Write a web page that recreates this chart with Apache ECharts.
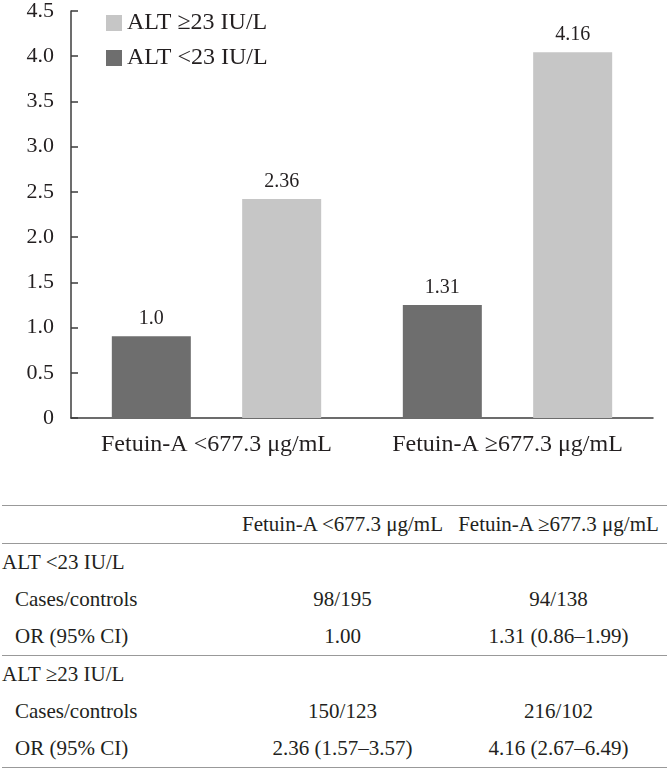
<!DOCTYPE html>
<html>
<head>
<meta charset="utf-8">
<script src="https://cdn.jsdelivr.net/npm/echarts@6/dist/echarts.min.js"></script>
<style>
  html, body { margin: 0; padding: 0; background: #fff; }
  #chart { position: absolute; left: 0; top: 0; width: 669px; height: 480px; }
  #tbl { position: absolute; left: 2px; top: 505px; width: 665px; border-collapse: collapse;
         font-family: "Liberation Serif", "DejaVu Serif", serif; font-size: 21px; color: #231f20; }
  #tbl td { height: 37px; padding: 0; white-space: nowrap; vertical-align: middle; }
  #tbl tr.top td { border-top: 1px solid #999; }
  #tbl tr.bot td { border-bottom: 1px solid #999; }
  #tbl td.c { text-align: center; }
  #tbl td.ind { padding-left: 13px; }
</style>
</head>
<body>
<div id="chart"></div>
<table id="tbl">
  <colgroup><col style="width:233px"><col style="width:215px"><col style="width:217px"></colgroup>
  <tbody id="tbody"></tbody>
</table>
<script>
// ---- Data ----
var categories = ['Fetuin-A <677.3 μg/mL', 'Fetuin-A ≥677.3 μg/mL'];
var seriesNames = ['ALT <23 IU/L', 'ALT ≥23 IU/L'];
// bar heights as drawn in the figure
var altLowHeights = [0.905, 1.25];
var altHighHeights = [2.42, 4.045];
// printed value labels above bars
var altLowLabels = ['1.0', '1.31'];
var altHighLabels = ['2.36', '4.16'];
var yTicks = ['0', '0.5', '1.0', '1.5', '2.0', '2.5', '3.0', '3.5', '4.0', '4.5'];

// table data
var tableHeader = ['', 'Fetuin-A <677.3 μg/mL', 'Fetuin-A ≥677.3 μg/mL'];
var groupLow = 'ALT <23 IU/L';
var groupHigh = 'ALT ≥23 IU/L';
var casesLow = ['98/195', '94/138'];
var orLow = ['1.00', '1.31 (0.86–1.99)'];
var casesHigh = ['150/123', '216/102'];
var orHigh = ['2.36 (1.57–3.57)', '4.16 (2.67–6.49)'];

// ---- Chart ----
var FONT = '"Liberation Serif", "DejaVu Serif", serif';
var TXT = '#231f20';
var chart = echarts.init(document.getElementById('chart'));
chart.setOption({
  animation: false,
  textStyle: { fontFamily: FONT, color: TXT },
  grid: { left: 71, right: 16, top: 9, bottom: 62, containLabel: false },
  legend: {
    data: [seriesNames[1], seriesNames[0]],
    orient: 'vertical', left: 106, top: 11, padding: 0,
    icon: 'rect', itemWidth: 16, itemHeight: 16, itemGap: 11,
    textStyle: { fontFamily: FONT, fontSize: 24, color: TXT, padding: [0, 0, 0, 0] },
    selectedMode: false
  },
  xAxis: {
    type: 'category', data: categories,
    axisLine: { lineStyle: { color: '#3c3c3c', width: 1.5 } },
    axisTick: { show: false },
    axisLabel: { fontFamily: FONT, fontSize: 24, color: TXT, margin: 15, interval: 0 }
  },
  yAxis: {
    type: 'value', min: 0, max: 4.5, interval: 0.5,
    axisLine: { show: true, lineStyle: { color: '#3c3c3c', width: 1.5 } },
    axisTick: { show: true, inside: true, length: 7, lineStyle: { color: '#3c3c3c', width: 1.5 } },
    splitLine: { show: false },
    axisLabel: {
      fontFamily: FONT, fontSize: 22, color: TXT, margin: 17,
      formatter: function (v) { return yTicks[Math.round(v / 0.5)]; }
    }
  },
  series: [
    {
      name: seriesNames[0], type: 'bar', data: altLowHeights,
      barWidth: 79, barGap: '65%',
      itemStyle: { color: '#6e6e6e' },
      label: { show: true, position: 'top', distance: 7, fontFamily: FONT, fontSize: 20, color: TXT,
        formatter: function (p) { return altLowLabels[p.dataIndex]; } }
    },
    {
      name: seriesNames[1], type: 'bar', data: altHighHeights,
      barWidth: 79, barGap: '65%',
      itemStyle: { color: '#c6c6c6' },
      label: { show: true, position: 'top', distance: 7, fontFamily: FONT, fontSize: 20, color: TXT,
        formatter: function (p) { return altHighLabels[p.dataIndex]; } }
    }
  ]
});

// ---- Table ----
function row(cells, cls, indent) {
  var tr = document.createElement('tr');
  if (cls) tr.className = cls;
  cells.forEach(function (c, i) {
    var td = document.createElement('td');
    td.textContent = c;
    if (i > 0) td.className = 'c';
    else if (indent) td.className = 'ind';
    tr.appendChild(td);
  });
  return tr;
}
var tb = document.getElementById('tbody');
tb.appendChild(row(tableHeader, 'top bot'));
tb.appendChild(row([groupLow, '', '']));
tb.appendChild(row(['Cases/controls'].concat(casesLow), '', true));
tb.appendChild(row(['OR (95% CI)'].concat(orLow), 'bot', true));
tb.appendChild(row([groupHigh, '', '']));
tb.appendChild(row(['Cases/controls'].concat(casesHigh), '', true));
tb.appendChild(row(['OR (95% CI)'].concat(orHigh), 'bot', true));
</script>
</body>
</html>
